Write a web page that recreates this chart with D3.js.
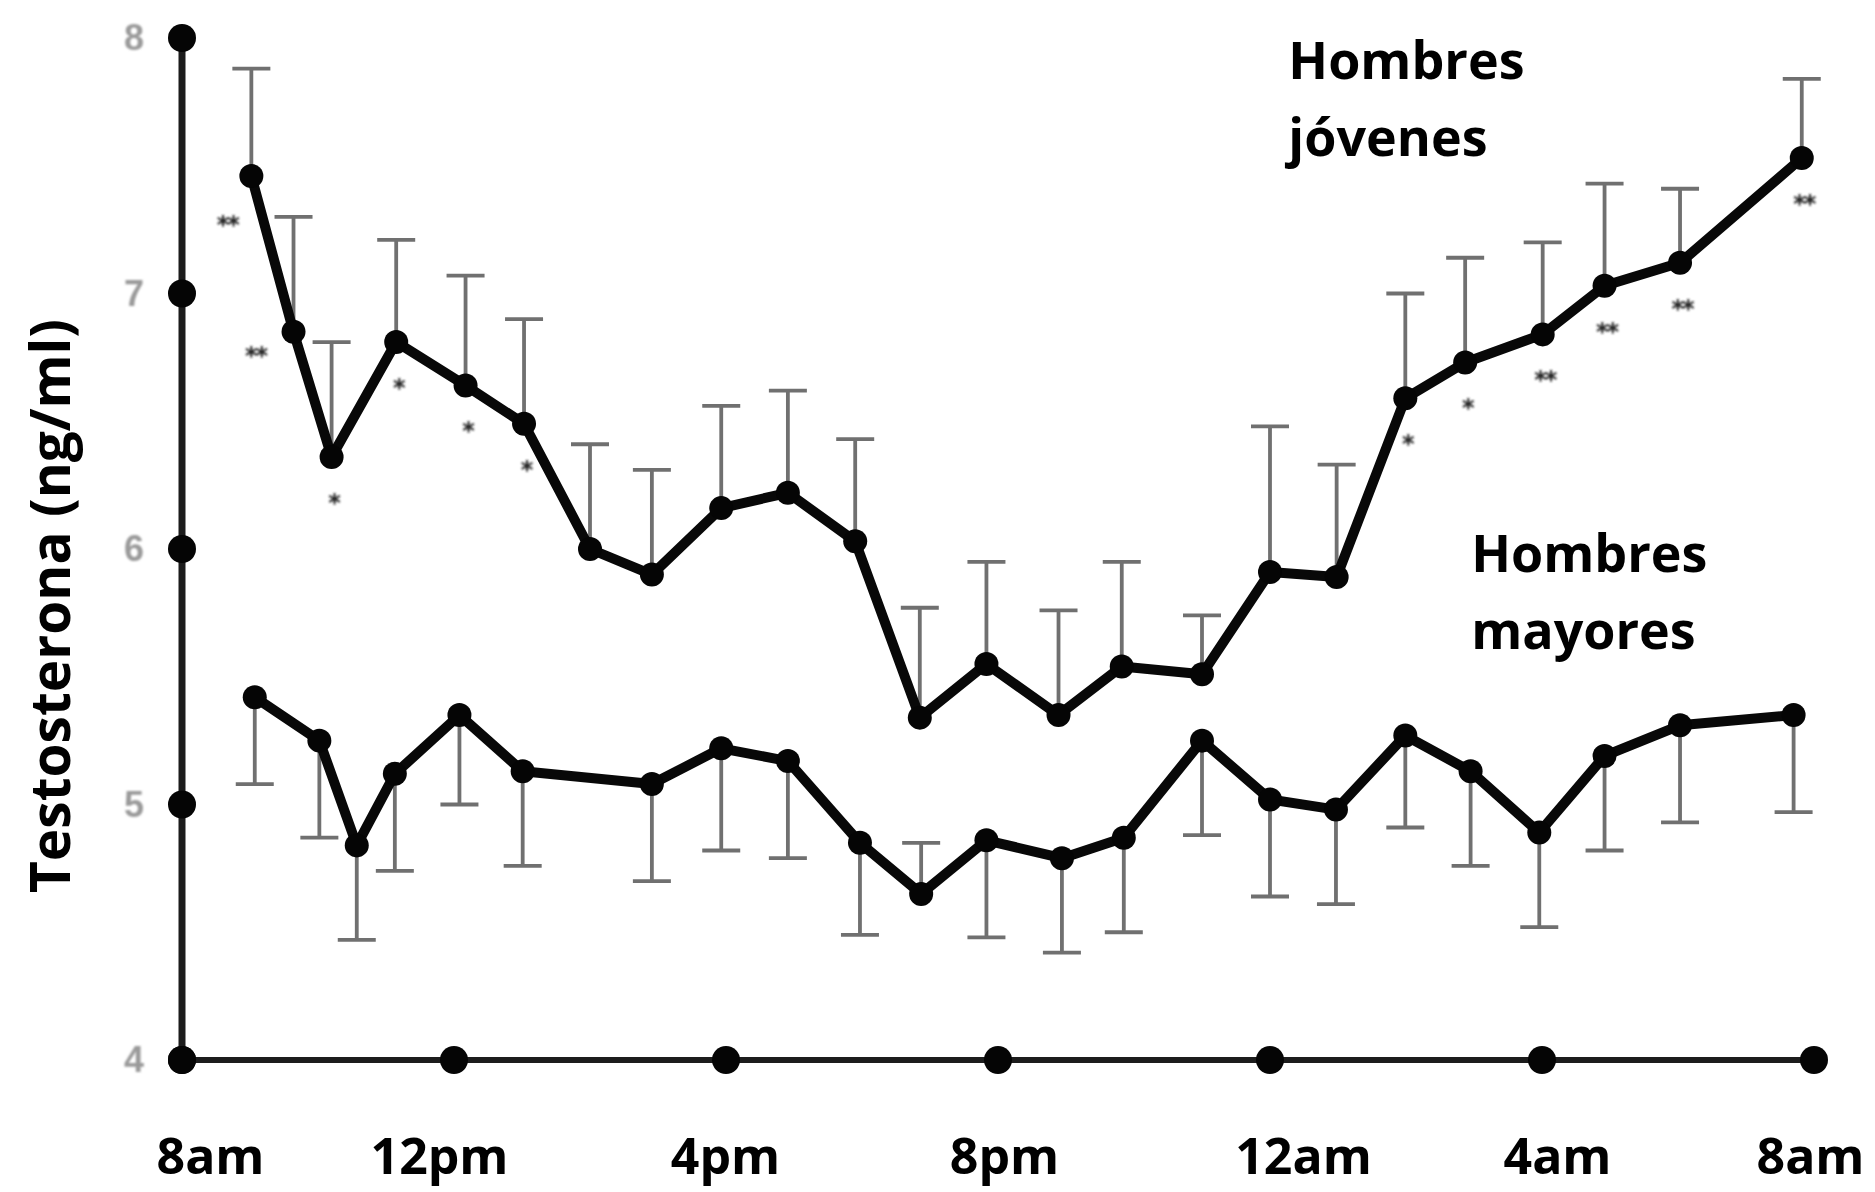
<!DOCTYPE html>
<html>
<head>
<meta charset="utf-8">
<script src="https://cdn.jsdelivr.net/npm/d3@7"></script>
<style>
  html, body { margin: 0; padding: 0; background: #ffffff; }
  svg { display: block; }
</style>
</head>
<body>
<svg id="chart" width="1875" height="1192"></svg>
<script>
// Axis ticks: hours elapsed since 8am, and their clock labels
const timeTicks = [0, 4, 8, 12, 16, 20, 24];
const timeLabels = ["8am", "12pm", "4pm", "8pm", "12am", "4am", "8am"];
const valueTicks = [4, 5, 6, 7, 8];

// Young men: sampling time (hours after 8am), mean testosterone (ng/ml), top of error bar
const youngHours = [1.02, 1.64, 2.20, 3.15, 4.17, 5.03, 6.00, 6.91, 7.93, 8.91, 9.90, 10.85,
                    11.83, 12.89, 13.82, 15.00, 16.00, 16.98, 17.99, 18.87, 20.01, 20.92, 22.03, 23.82];
const youngMean  = [7.46, 6.85, 6.36, 6.81, 6.64, 6.49, 6.00, 5.90, 6.16, 6.22, 6.03, 5.34,
                    5.55, 5.35, 5.54, 5.51, 5.91, 5.89, 6.59, 6.73, 6.84, 7.03, 7.12, 7.53];
const youngErrTip = [7.88, 7.30, 6.81, 7.21, 7.07, 6.90, 6.41, 6.31, 6.56, 6.62, 6.43, 5.77,
                     5.95, 5.76, 5.95, 5.74, 6.48, 6.33, 7.00, 7.14, 7.20, 7.43, 7.41, 7.84];
// Significance versus older men at the same time point
const youngSig = ["**", "**", "*", "*", "*", "*", "", "", "", "", "", "",
                  "", "", "", "", "", "", "*", "*", "**", "**", "**", "**"];

// Older men: sampling time, mean, end of error bar
const olderHours = [1.07, 2.02, 2.57, 3.13, 4.08, 5.01, 6.91, 7.93, 8.91, 9.97, 10.87, 11.83,
                    12.94, 13.85, 15.00, 16.00, 16.97, 17.99, 18.95, 19.96, 20.92, 22.03, 23.70];
const olderMean  = [5.42, 5.25, 4.84, 5.12, 5.35, 5.13, 5.08, 5.22, 5.17, 4.85, 4.65, 4.86,
                    4.79, 4.87, 5.25, 5.02, 4.98, 5.27, 5.13, 4.89, 5.19, 5.31, 5.35];
const olderErrTip = [5.08, 4.87, 4.47, 4.74, 5.00, 4.76, 4.70, 4.82, 4.79, 4.49, 4.85, 4.48,
                     4.42, 4.50, 4.88, 4.64, 4.61, 4.91, 4.76, 4.52, 4.82, 4.93, 4.97];

const seriesNames = [["Hombres", "jóvenes"], ["Hombres", "mayores"]];
const axisTitle = "Testosterona (ng/ml)";

const svg = d3.select("#chart");
const FONT = "'Open Sans', 'Noto Sans', sans-serif";

// soft edge used for the faint tick numbers and significance marks
const defs = svg.append("defs");
defs.append("filter").attr("id", "soft").attr("x", "-20%").attr("y", "-20%").attr("width", "140%").attr("height", "140%")
  .append("feGaussianBlur").attr("stdDeviation", 0.9);

const x = d3.scaleLinear().domain([0, 24]).range([182, 1814]);
const y = d3.scaleLinear().domain([4, 8]).range([1060, 38]);

const young = youngHours.map((h, i) => ({ h, v: youngMean[i], tip: youngErrTip[i], sig: youngSig[i] }));
const older = olderHours.map((h, i) => ({ h, v: olderMean[i], tip: olderErrTip[i] }));

// ---- axes ----
const yAxis = d3.axisLeft(y).tickValues(valueTicks).tickSize(0).tickPadding(38).tickFormat(d3.format("d"));
const yG = svg.append("g").attr("transform", `translate(${x(0)},0)`).call(yAxis);
yG.select(".domain").attr("stroke", "#1c1c1c").attr("stroke-width", 7).attr("d", `M0,${y(4)}V${y(8)}`);
yG.selectAll("text")
  .attr("font-family", "'Liberation Sans', Arial, sans-serif")
  .attr("font-weight", "bold")
  .attr("font-size", 36)
  .attr("fill", "#9a9a9a")
  .attr("filter", "url(#soft)");

// the clock labels sit slightly off their ticks
const labelShift = [28, -15, -1, 6, 33, 15, -4];
const xAxis = d3.axisBottom(x).tickValues(timeTicks).tickSize(0).tickFormat((d, i) => timeLabels[i]);
const xG = svg.append("g").attr("transform", `translate(0,${y(4)})`).call(xAxis);
xG.select(".domain").attr("stroke", "#1c1c1c").attr("stroke-width", 6).attr("d", `M${x(0)},0H${x(24)}`);
xG.selectAll("text")
  .attr("font-family", FONT)
  .attr("font-weight", "bold")
  .attr("font-size", 50)
  .attr("fill", "#000")
  .attr("x", (d, i) => labelShift[i])
  .attr("y", 114)
  .attr("dy", 0);

// tick dots on both axes
svg.append("g").selectAll("circle").data(valueTicks).join("circle")
  .attr("cx", x(0)).attr("cy", d => y(d)).attr("r", 14).attr("fill", "#050505");
svg.append("g").selectAll("circle").data(timeTicks).join("circle")
  .attr("cx", d => x(d)).attr("cy", y(4)).attr("r", 14).attr("fill", "#050505");

// ---- error bars ----
function errorBars(data) {
  const g = svg.append("g").attr("stroke", "#707070").attr("stroke-width", 3.8).attr("fill", "none");
  g.selectAll("path").data(data).join("path")
    .attr("d", d => `M${x(d.h)},${y(d.v)}V${y(d.tip)}M${x(d.h) - 19},${y(d.tip)}H${x(d.h) + 19}`);
}
errorBars(young);
errorBars(older);

// ---- series lines and markers ----
const line = d3.line().x(d => x(d.h)).y(d => y(d.v));
[young, older].forEach(data => {
  svg.append("path").datum(data)
    .attr("d", line)
    .attr("fill", "none")
    .attr("stroke", "#080808")
    .attr("stroke-width", 10)
    .attr("stroke-linejoin", "round");
  svg.append("g").selectAll("circle").data(data).join("circle")
    .attr("cx", d => x(d.h)).attr("cy", d => y(d.v)).attr("r", 12).attr("fill", "#050505");
});

// ---- significance asterisks (first two sit to the left of the line) ----
svg.append("g").attr("filter", "url(#soft)").selectAll("text").data(young.filter(d => d.sig)).join("text")
  .attr("x", (d, i) => i === 0 ? x(d.h) - 24 : i === 1 ? x(d.h) - 38 : x(d.h) + 2)
  .attr("y", (d, i) => i === 0 ? y(d.v) + 57 : i === 1 ? y(d.v) + 32 : y(d.v) + 54)
  .attr("text-anchor", "middle")
  .attr("font-family", "'DejaVu Sans', sans-serif")
  .attr("font-weight", "bold")
  .attr("font-size", 24)
  .attr("letter-spacing", -2)
  .attr("fill", "#222")
  .text(d => d.sig);

// ---- series names ----
const namePos = [{ h: 16.27, v: 7.84 }, { h: 18.96, v: 5.91 }];
seriesNames.forEach((lines, k) => {
  const t = svg.append("text")
    .attr("x", x(namePos[k].h)).attr("y", y(namePos[k].v))
    .attr("font-family", FONT).attr("font-weight", "bold").attr("font-size", 52).attr("fill", "#000");
  lines.forEach((s, j) => t.append("tspan").attr("x", x(namePos[k].h)).attr("dy", j === 0 ? 0 : 77).text(s));
});

// ---- y-axis title ----
svg.append("text")
  .attr("transform", "translate(70,606) rotate(-90)")
  .attr("text-anchor", "middle")
  .attr("font-family", FONT).attr("font-weight", "bold").attr("font-size", 55).attr("fill", "#000")
  .text(axisTitle);
</script>
</body>
</html>
